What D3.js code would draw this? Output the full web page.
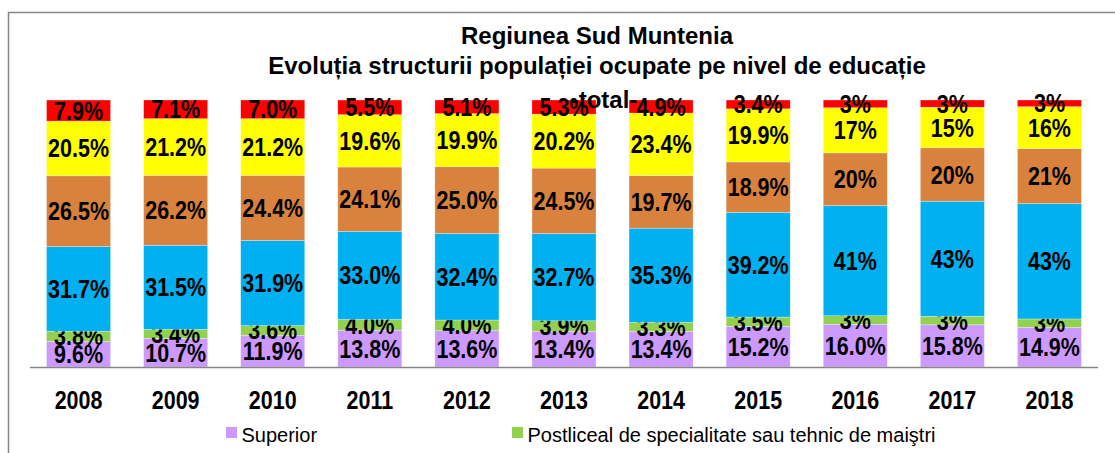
<!DOCTYPE html>
<html>
<head>
<meta charset="utf-8">
<script src="https://cdn.jsdelivr.net/npm/d3@7"></script>
<style>
    body { margin: 0; background: #ffffff; }
    svg { display: block; }
</style>
</head>
<body>
<svg id="chart" width="1115" height="453"></svg>
<script>
// years on x axis
var years = ["2008","2009","2010","2011","2012","2013","2014","2015","2016","2017","2018"];
// series, bottom to top (percent of total)
var seriesNames = ["Superior", "Postliceal de specialitate sau tehnic de maiştri",
    "Liceal", "Profesional", "Gimnazial", "Primar"];
var superior   = [9.6, 10.7, 11.9, 13.8, 13.6, 13.4, 13.4, 15.2, 16.0, 15.8, 14.9];
var postliceal = [3.8, 3.4, 3.6, 4.0, 4.0, 3.9, 3.3, 3.5, 3.2, 3.2, 3.1];
var liceal     = [31.7, 31.5, 31.9, 33.0, 32.4, 32.7, 35.3, 39.2, 41.3, 43.1, 43.2];
var profesional= [26.5, 26.2, 24.4, 24.1, 25.0, 24.5, 19.7, 18.9, 19.7, 20.0, 20.6];
var gimnazial  = [20.5, 21.2, 21.2, 19.6, 19.9, 20.2, 23.4, 19.9, 16.9, 15.2, 15.7];
var primar     = [7.9, 7.1, 7.0, 5.5, 5.1, 5.3, 4.9, 3.4, 2.9, 2.7, 2.6];
var colors = ["#cc99ff","#92d050","#00b0f0","#d9823e","#ffff00","#ff0000"];
// in these years only "Superior" keeps one decimal
var roundedYears = ["2016","2017","2018"];
var legendNames = ["Superior", "Postliceal de specialitate sau tehnic de maiştri"];
var titleLines = ["Regiunea Sud Muntenia",
    "Evoluția structurii populației ocupate pe nivel de educație"];

var font = "'Liberation Sans', Arial, sans-serif";
var squeeze = 0.86;  // narrow look of the labels
var svg = d3.select("#chart");

// frame
svg.append("rect")
    .attr("x", 8.5).attr("y", 12.5)
    .attr("width", 1200).attr("height", 500)
    .attr("fill", "none")
    .attr("stroke", "#868686")
    .attr("stroke-width", 1.5);

var x = d3.scaleBand()
    .domain(years)
    .range([30, 1098])
    .paddingInner(0.34)
    .paddingOuter(0.17);
var y = d3.scaleLinear()
    .domain([0, 100])
    .range([367, 100]);

var table = years.map(function(yr, i){
    return {year: yr, s0: superior[i], s1: postliceal[i], s2: liceal[i],
        s3: profesional[i], s4: gimnazial[i], s5: primar[i]};
});
var keys = ["s0","s1","s2","s3","s4","s5"];
var stacked = d3.stack().keys(keys)(table);

var layers = svg.selectAll(".layer")
    .data(stacked)
    .enter()
    .append("g")
    .attr("class", "layer")
    .attr("fill", function(d, i){ return colors[i]; });

layers.selectAll("rect")
    .data(function(d){ return d; })
    .enter()
    .append("rect")
    .attr("x", function(d){ return x(d.data.year); })
    .attr("y", function(d){ return y(Math.min(d[1], 100)); })
    .attr("width", x.bandwidth())
    .attr("height", function(d){ return y(d[0]) - y(Math.min(d[1], 100)); })
    .attr("stroke", "#ffffff")
    .attr("stroke-opacity", 0.5)
    .attr("stroke-width", 0.6);

// axis line
svg.append("line")
    .attr("x1", 30).attr("x2", 1098)
    .attr("y1", 367.5).attr("y2", 367.5)
    .attr("stroke", "#868686")
    .attr("stroke-width", 1.5);

// value labels
layers.each(function(layer, li){
    d3.select(this).selectAll("text")
        .data(layer)
        .enter()
        .append("text")
        .text(function(d){
            var v = d.data[layer.key];
            if (li > 0 && roundedYears.indexOf(d.data.year) >= 0) return v.toFixed(0) + "%";
            return v.toFixed(1) + "%";
        })
        .attr("transform", function(d){
            var cx = x(d.data.year) + x.bandwidth() / 2;
            var cy = (y(d[0]) + y(Math.min(d[1], 100))) / 2;
            return "translate(" + cx + "," + cy + ") scale(" + squeeze + ",1)";
        })
        .attr("dy", "0.36em")
        .attr("text-anchor", "middle")
        .attr("fill", "#000000")
        .attr("font-family", font)
        .attr("font-weight", "bold")
        .attr("font-size", "25px");
});

// year labels
svg.selectAll(".year")
    .data(years)
    .enter()
    .append("text")
    .attr("class", "year")
    .text(function(d){ return d; })
    .attr("transform", function(d){
        return "translate(" + (x(d) + x.bandwidth() / 2) + ",409) scale(" + squeeze + ",1)";
    })
    .attr("text-anchor", "middle")
    .attr("font-family", font)
    .attr("font-weight", "bold")
    .attr("font-size", "25px");

// title
svg.selectAll(".title")
    .data(titleLines)
    .enter()
    .append("text")
    .attr("class", "title")
    .text(function(d){ return d; })
    .attr("x", 597)
    .attr("y", function(d, i){ return 44 + i * 29.5; })
    .attr("text-anchor", "middle")
    .attr("font-family", font)
    .attr("font-weight", "bold")
    .attr("font-size", "24px");
svg.append("text")
    .text("-total-")
    .attr("x", 604)
    .attr("y", 108)
    .attr("text-anchor", "middle")
    .attr("font-family", font)
    .attr("font-weight", "bold")
    .attr("font-size", "24px");

// legend
var legendX = [226, 512];
var legend = svg.selectAll(".legend")
    .data(legendNames)
    .enter()
    .append("g")
    .attr("class", "legend")
    .attr("transform", function(d, i){ return "translate(" + legendX[i] + ",427)"; });
legend.append("rect")
    .attr("width", 11).attr("height", 11)
    .attr("fill", function(d, i){ return colors[i]; });
legend.append("text")
    .text(function(d){ return d; })
    .attr("x", 15.5)
    .attr("y", 14.7)
    .attr("font-family", font)
    .attr("font-size", "20px");
</script>
</body>
</html>
